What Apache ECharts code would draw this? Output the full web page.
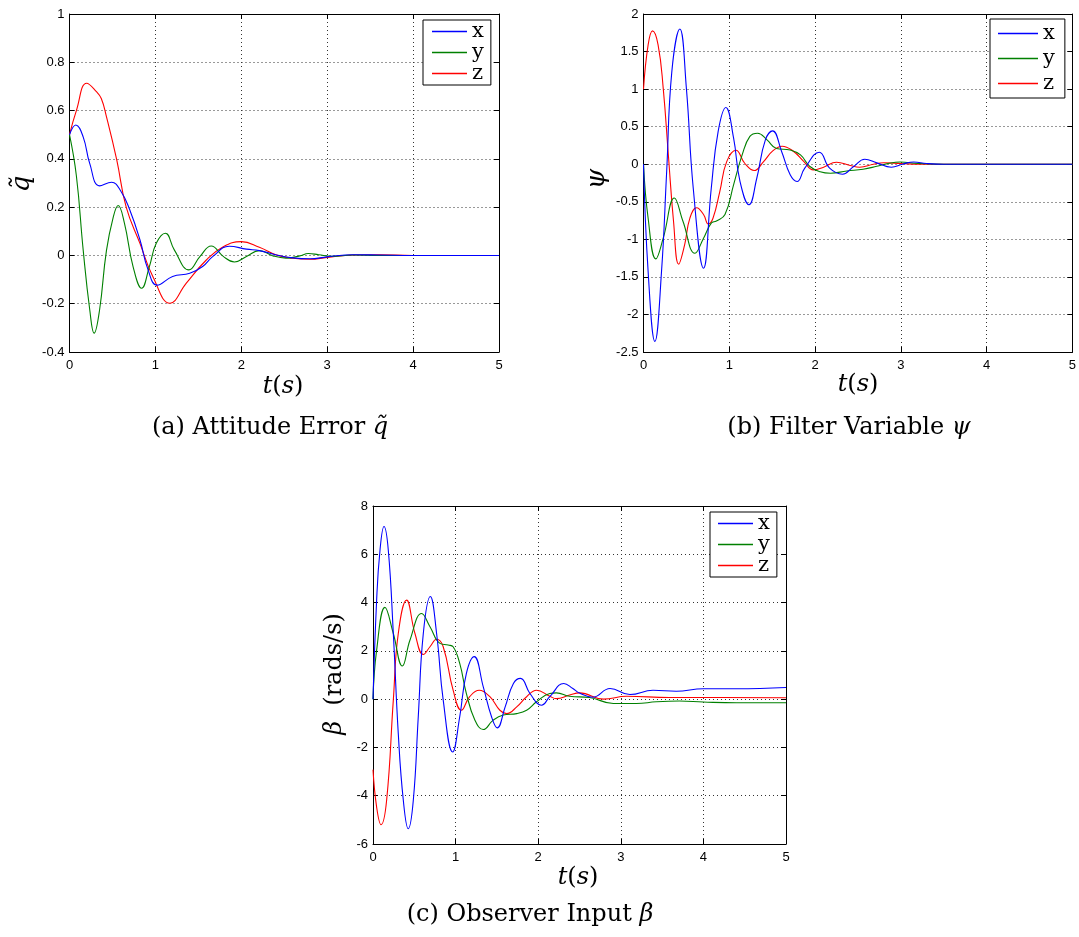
<!DOCTYPE html>
<html>
<head>
<meta charset="utf-8">
<script src="https://cdn.jsdelivr.net/npm/echarts@6/dist/echarts.min.js"></script>
<style>html,body{margin:0;padding:0;background:#fff;}#c{width:1079px;height:937px;}</style>
</head>
<body>
<div id="c"></div>
<script>
// ---------- data: [t (s), value] ----------
const seriesNames = ['x', 'y', 'z'];
const xTicks = [0, 1, 2, 3, 4, 5];

// (a) Attitude error q~
const qX = [[0,0.5],[0.074,0.54],[0.16,0.49],[0.236,0.38],[0.35,0.288],[0.49,0.303],[0.6,0.265],[0.7,0.19],[0.82,0.065],[0.915,-0.06],[1.02,-0.123],[1.2,-0.087],[1.4,-0.074],[1.55,-0.046],[1.67,-0.004],[1.86,0.038],[2.06,0.026],[2.21,0.02],[2.41,0.002],[2.6,-0.01],[2.8,-0.014],[3.0,-0.006],[3.3,0.003],[3.6,0.002],[4,0],[5,0]];
const qY = [[0,0.5],[0.08,0.33],[0.16,0.02],[0.236,-0.226],[0.287,-0.322],[0.35,-0.226],[0.43,0.02],[0.51,0.16],[0.566,0.207],[0.64,0.133],[0.74,-0.046],[0.84,-0.136],[0.93,-0.046],[1.01,0.05],[1.116,0.092],[1.22,0.023],[1.39,-0.06],[1.52,-0.004],[1.65,0.039],[1.79,-0.004],[1.92,-0.027],[2.06,-0.004],[2.21,0.02],[2.37,-0.002],[2.52,-0.011],[2.68,-0.002],[2.78,0.008],[2.9,0.003],[3.05,-0.004],[3.3,0.002],[3.6,0],[5,0]];
const qZ = [[0,0.5],[0.08,0.6],[0.2,0.713],[0.31,0.68],[0.37,0.65],[0.43,0.575],[0.55,0.396],[0.66,0.2],[0.82,0.05],[0.97,-0.087],[1.17,-0.198],[1.36,-0.115],[1.59,-0.02],[1.79,0.036],[2.0,0.057],[2.21,0.034],[2.41,0.002],[2.6,-0.012],[2.8,-0.016],[3.0,-0.008],[3.3,0.002],[3.6,0.003],[4,0],[5,0]];

// (b) Filter variable psi
const psiX = [[0,0],[0.054,-1.43],[0.133,-2.36],[0.21,-1.43],[0.27,-0.1],[0.33,1.23],[0.424,1.8],[0.5,1.01],[0.58,-0.32],[0.7,-1.385],[0.79,-0.32],[0.87,0.435],[0.96,0.755],[1.05,0.35],[1.125,-0.23],[1.23,-0.54],[1.32,-0.19],[1.42,0.32],[1.505,0.444],[1.61,0.17],[1.71,-0.14],[1.79,-0.23],[1.88,-0.053],[2.05,0.16],[2.17,-0.053],[2.32,-0.133],[2.45,-0.03],[2.58,0.067],[2.72,0.018],[2.89,-0.04],[3.02,0.0],[3.15,0.03],[3.3,0.01],[3.5,0],[5,0]];
const psiY = [[0,0],[0.054,-0.72],[0.144,-1.26],[0.23,-0.985],[0.36,-0.45],[0.46,-0.76],[0.6,-1.185],[0.7,-0.985],[0.79,-0.785],[0.85,-0.755],[0.95,-0.67],[1.05,-0.275],[1.15,0.124],[1.24,0.37],[1.33,0.413],[1.44,0.324],[1.55,0.21],[1.71,0.19],[1.83,0.124],[1.94,-0.03],[2.06,-0.1],[2.18,-0.12],[2.37,-0.09],[2.56,-0.067],[2.72,-0.027],[2.85,0.01],[2.99,0.03],[3.2,0.01],[3.5,0],[5,0]];
const psiZ = [[0,1.0],[0.054,1.59],[0.105,1.775],[0.17,1.59],[0.23,1.01],[0.29,0.12],[0.35,-0.76],[0.41,-1.33],[0.48,-1.07],[0.54,-0.72],[0.62,-0.58],[0.7,-0.67],[0.755,-0.795],[0.81,-0.72],[0.89,-0.36],[0.97,0.035],[1.078,0.186],[1.18,0.013],[1.29,-0.084],[1.4,0.035],[1.51,0.18],[1.615,0.24],[1.75,0.17],[1.87,0.035],[1.98,-0.075],[2.1,-0.04],[2.25,0.027],[2.41,-0.018],[2.52,-0.04],[2.68,0.0],[2.8,0.02],[3.0,0.01],[3.2,0.0],[5,0]];

// (c) Observer input beta (rads/s)
const betaX = [[0,0],[0.044,4.1],[0.085,6.18],[0.133,7.15],[0.185,6.18],[0.246,2.72],[0.306,-1.42],[0.367,-4.19],[0.427,-5.37],[0.488,-4.19],[0.548,-0.73],[0.609,2.72],[0.694,4.25],[0.77,2.72],[0.85,-0.04],[0.964,-2.19],[1.05,-0.73],[1.13,1.06],[1.226,1.76],[1.335,0.51],[1.435,-0.73],[1.504,-1.19],[1.6,-0.32],[1.7,0.65],[1.786,0.86],[1.9,0.235],[2.04,-0.25],[2.14,0.1],[2.31,0.65],[2.42,0.44],[2.5,0.25],[2.66,0.08],[2.87,0.44],[3.11,0.19],[3.39,0.37],[3.67,0.33],[4.0,0.43],[4.4,0.43],[5,0.48]];
const betaY = [[0,0],[0.044,2.03],[0.145,3.8],[0.246,2.72],[0.355,1.37],[0.448,2.45],[0.589,3.55],[0.69,3.0],[0.81,2.31],[0.91,2.24],[0.97,2.17],[1.05,1.48],[1.13,0.235],[1.234,-0.87],[1.335,-1.26],[1.456,-0.87],[1.577,-0.66],[1.74,-0.6],[1.86,-0.46],[1.98,-0.11],[2.14,0.235],[2.22,0.26],[2.38,0.12],[2.62,0.07],[2.91,-0.18],[3.19,-0.18],[3.43,-0.11],[3.71,-0.08],[4.0,-0.12],[4.4,-0.15],[5,-0.15]];
const betaZ = [[0,-2.92],[0.044,-4.47],[0.097,-5.2],[0.165,-4.19],[0.246,-0.04],[0.306,2.72],[0.407,4.1],[0.508,2.72],[0.609,1.85],[0.69,2.17],[0.77,2.48],[0.85,2.17],[0.97,0.37],[1.07,-0.46],[1.17,0.1],[1.286,0.37],[1.415,0.1],[1.536,-0.46],[1.617,-0.6],[1.74,-0.32],[1.86,0.1],[1.98,0.37],[2.14,0.12],[2.22,0.02],[2.38,0.17],[2.5,0.26],[2.79,0.0],[3.07,0.12],[3.59,0.07],[4.0,0.07],[5,0.06]];

const yRangeA = {min: -0.4, max: 1, interval: 0.2};
const yRangeB = {min: -2.5, max: 2, interval: 0.5};
const yRangeC = {min: -6, max: 8, interval: 2};

// ---------- chart ----------
const colors = ['#0000ff', '#008000', '#ff0000'];
const serif = 'DejaVu Serif';
const tickFont = {fontFamily: 'Liberation Sans', fontSize: 13, color: '#000'};

const grids = [
  {left: 69.5, top: 14, width: 429.5, height: 338},
  {left: 643.5, top: 14, width: 429, height: 338},
  {left: 373, top: 506, width: 413, height: 338}
];
const yRanges = [yRangeA, yRangeB, yRangeC];
const dataSets = [[qX, qY, qZ], [psiX, psiY, psiZ], [betaX, betaY, betaZ]];

const xAxes = [], yAxes = [], series = [];
grids.forEach((g, i) => {
  const base = {
    type: 'value', gridIndex: i, min: xTicks[0], max: xTicks[xTicks.length - 1], interval: 1,
    axisLine: {show: true, onZero: false, lineStyle: {color: '#000', width: 1}},
    axisTick: {show: true, inside: true, length: 5, lineStyle: {color: '#000'}}
  };
  xAxes.push(Object.assign({}, base, {
    position: 'bottom',
    axisLabel: Object.assign({margin: 7}, tickFont),
    splitLine: {show: true, lineStyle: {color: '#333', type: [1, 3], width: 1}}
  }));
  xAxes.push(Object.assign({}, base, {
    position: 'top', axisLabel: {show: false}, splitLine: {show: false}
  }));
  const yb = {
    type: 'value', gridIndex: i, min: yRanges[i].min, max: yRanges[i].max, interval: yRanges[i].interval,
    axisLine: {show: true, onZero: false, lineStyle: {color: '#000', width: 1}},
    axisTick: {show: true, inside: true, length: 5, lineStyle: {color: '#000'}}
  };
  yAxes.push(Object.assign({}, yb, {
    position: 'left',
    axisLabel: Object.assign({margin: 5}, tickFont),
    splitLine: {show: true, lineStyle: {color: '#333', type: [1, 3], width: 1}}
  }));
  yAxes.push(Object.assign({}, yb, {
    position: 'right', axisLabel: {show: false}, splitLine: {show: false}
  }));
  dataSets[i].forEach((d, k) => {
    series.push({
      type: 'line', name: seriesNames[k], xAxisIndex: 2 * i, yAxisIndex: 2 * i,
      data: d, showSymbol: false, smooth: 0.45, color: colors[k],
      lineStyle: {width: 1.1, color: colors[k]}, z: 3 - k + 2
    });
  });
});

function legendAt(left, top, lh, iw, pad) {
  return {
    data: seriesNames, left: left, top: top, orient: 'vertical', itemGap: 0,
    itemWidth: iw, itemHeight: 1.3, icon: 'rect', selectedMode: false,
    backgroundColor: '#fff', borderColor: '#000', borderWidth: 1, borderRadius: 0,
    padding: pad,
    textStyle: {fontFamily: serif, fontSize: 21, lineHeight: lh, color: '#000'}
  };
}

const legends = [
  legendAt(423, 20, 15, 35, [1, 7, 1, 9]),
  legendAt(990, 19, 25, 40, [2, 10, 2, 8]),
  legendAt(710, 512, 15, 35, [1, 7, 1, 8])
];

function tsLabel(cx, cy) {
  return {
    type: 'text', x: cx, y: cy,
    style: {
      text: '{i|t}{n|(}{i|s}{n|)}', align: 'center', verticalAlign: 'middle',
      rich: {
        i: {fontFamily: serif, fontStyle: 'italic', fontSize: 24, fill: '#000'},
        n: {fontFamily: serif, fontSize: 24, fill: '#000'}
      }
    }
  };
}
function caption(cx, cy, plain, sym) {
  return {
    type: 'text', x: cx, y: cy,
    style: {
      text: '{n|' + plain + '}{i|' + sym + '}', align: 'center', verticalAlign: 'middle',
      rich: {
        i: {fontFamily: serif, fontStyle: 'italic', fontSize: 24, fill: '#000'},
        n: {fontFamily: serif, fontSize: 24, fill: '#000'}
      }
    }
  };
}
function yTitle(cx, cy, rich, text) {
  return {
    type: 'text', x: cx, y: cy, rotation: Math.PI / 2,
    style: {text: text, align: 'center', verticalAlign: 'middle', rich: rich}
  };
}

const graphics = [
  tsLabel(283, 387), tsLabel(858, 385), tsLabel(578, 878),
  caption(270, 428, '(a) Attitude Error ', 'q\u0303'),
  caption(849, 428, '(b) Filter Variable ', '\u03c8'),
  caption(530, 915, '(c) Observer Input ', '\u03b2'),
  yTitle(22, 184, {i: {fontFamily: serif, fontStyle: 'italic', fontSize: 26, fill: '#000'}}, '{i|q\u0303}'),
  yTitle(597, 179, {i: {fontFamily: serif, fontStyle: 'italic', fontSize: 26, fill: '#000'}}, '{i|\u03c8}'),
  yTitle(335, 674, {
    i: {fontFamily: serif, fontStyle: 'italic', fontSize: 24, fill: '#000'},
    n: {fontFamily: serif, fontSize: 24, fill: '#000'}
  }, '{i|\u03b2}{n|  (rads/s)}')
];

const chart = echarts.init(document.getElementById('c'), null, {renderer: 'canvas'});
chart.setOption({
  animation: false,
  backgroundColor: '#fff',
  grid: grids,
  xAxis: xAxes,
  yAxis: yAxes,
  legend: legends,
  series: series,
  graphic: graphics
});
</script>
</body>
</html>
